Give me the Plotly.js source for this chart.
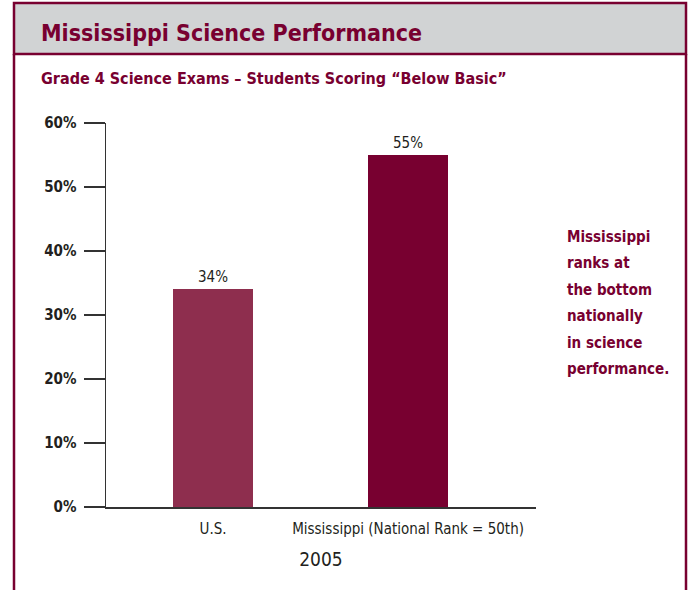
<!DOCTYPE html>
<html><head><meta charset="utf-8">
<script src="https://cdn.plot.ly/plotly-3.0.1.min.js"></script>
<style>html,body{margin:0;padding:0;background:#fff}#chart{width:689px;height:590px}</style>
</head><body><div id="chart"></div>
<script>
const categories = ["U.S.", "Mississippi (National Rank = 50th)"];
const values = [34, 55];
const valueLabels = ["34%", "55%"];
const barColors = ["#8E2E4E", "#780030"];
const yTicks = [0, 10, 20, 30, 40, 50, 60];
const yTickLabels = ["0%", "10%", "20%", "30%", "40%", "50%", "60%"];
const xTitle = "2005";
const chartTitle = "Mississippi Science Performance";
const subTitle = "Grade 4 Science Exams – Students Scoring “Below Basic”";
const sideNote = ["Mississippi", "ranks at", "the bottom", "nationally", "in science", "performance."];

const W = 689, H = 590;
const FONT = "DejaVu Sans Condensed, DejaVu Sans, sans-serif";
const MAROON = "#780030";
const px = x => x / W, py = y => 1 - y / H;
const f = (size, color, extra) => Object.assign({family: FONT, size: size, color: color, stretch: "condensed"}, extra || {});

const trace = {
  type: "bar",
  x: [0, 1],
  y: values,
  width: 0.41,
  marker: {color: barColors, line: {width: 0}},
  text: valueLabels,
  textposition: "outside",
  cliponaxis: false,
  textfont: f(15, "#231F20"),
  hoverinfo: "skip"
};

const shapes = [
  {type: "rect", xref: "paper", yref: "paper", x0: px(14), x1: px(686), y0: py(3), y1: py(54),
   fillcolor: "#D1D3D4", line: {color: MAROON, width: 2.5}, layer: "below"},
  {type: "line", xref: "paper", yref: "paper", x0: px(14), x1: px(14), y0: py(54), y1: 0,
   line: {color: MAROON, width: 2.5}},
  {type: "line", xref: "paper", yref: "paper", x0: px(686), x1: px(686), y0: py(54), y1: 0,
   line: {color: MAROON, width: 2.5}}
];

const annotations = [
  {xref: "paper", yref: "paper", x: px(39), y: py(33), xanchor: "left", yanchor: "middle",
   text: chartTitle, showarrow: false, font: f(23, MAROON, {weight: "bold"})},
  {xref: "paper", yref: "paper", x: px(39), y: py(78), xanchor: "left", yanchor: "middle",
   text: subTitle, showarrow: false, font: f(16, MAROON, {weight: "bold"})}
];
sideNote.forEach((line, i) => {
  annotations.push({xref: "paper", yref: "paper", x: px(565), y: py(237 + i * 26.4),
    xanchor: "left", yanchor: "middle", align: "left", text: line, showarrow: false,
    font: f(15, MAROON, {weight: "bold"})});
});

const layout = {
  width: W, height: H,
  margin: {l: 0, r: 0, t: 0, b: 0},
  paper_bgcolor: "#fff", plot_bgcolor: "#fff",
  showlegend: false,
  bargap: 0,
  xaxis: {
    domain: [px(106), px(536)],
    range: [-0.549, 1.656],
    tickvals: [0, 1], ticktext: categories,
    ticks: "", showgrid: false, zeroline: false,
    showline: true, linecolor: "#333", linewidth: 1.5,
    tickfont: f(15, "#231F20"),
    ticklabelstandoff: 7,
    title: {text: xTitle, font: f(19, "#231F20"), standoff: 16},
    fixedrange: true
  },
  yaxis: {
    domain: [py(507), py(123)],
    range: [0, 60],
    tickvals: yTicks, ticktext: yTickLabels,
    ticks: "outside", ticklen: 21, tickwidth: 1.2, tickcolor: "#333",
    showgrid: false, zeroline: false,
    showline: true, linecolor: "#333", linewidth: 1.5,
    tickfont: f(15, "#231F20", {weight: "bold"}),
    ticklabelstandoff: 4,
    fixedrange: true
  },
  shapes: shapes,
  annotations: annotations
};

Plotly.newPlot("chart", [trace], layout, {staticPlot: true, displayModeBar: false});
</script></body></html>
